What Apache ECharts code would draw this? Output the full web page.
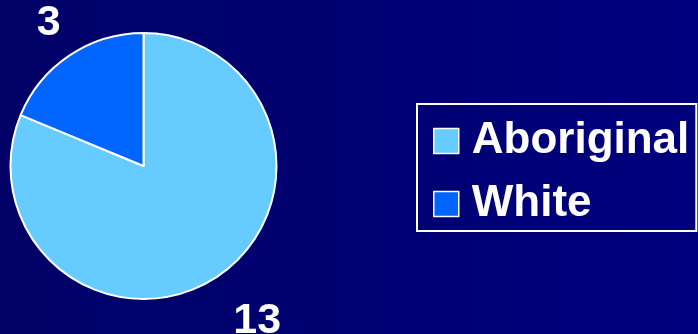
<!DOCTYPE html>
<html>
<head>
<meta charset="utf-8">
<style>
  html, body { margin: 0; padding: 0; }
  #chart { width: 698px; height: 334px; }
</style>
<script src="https://cdn.jsdelivr.net/npm/echarts@6/dist/echarts.min.js"></script>
</head>
<body>
<div id="chart"></div>
<script>
// Counts by group
const categories = ['Aboriginal', 'White'];
const counts = [13, 3];
const colors = ['#66CCFF', '#0066FF'];

const pieData = categories.map((name, i) => ({
  name: name,
  value: counts[i],
  itemStyle: { color: colors[i] }
}));

const FONT = '"Liberation Sans", Arial, sans-serif';
const center = [143.5, 166];

const chart = echarts.init(document.getElementById('chart'));
chart.setOption({
  backgroundColor: {
    type: 'linear', x: 0, y: 0, x2: 1, y2: 0,
    colorStops: [
      { offset: 0, color: '#000066' },
      { offset: 1, color: '#00007E' }
    ]
  },
  animation: false,
  legend: {
    orient: 'vertical',
    left: 417,
    top: 104,
    data: categories,
    icon: 'rect',
    itemWidth: 25,
    itemHeight: 25,
    itemGap: 19,
    padding: [15, 7, 5, 16],
    borderColor: '#FFFFFF',
    borderWidth: 2,
    itemStyle: { borderColor: '#FFFFFF', borderWidth: 1.5 },
    textStyle: {
      color: '#FFFFFF',
      fontFamily: FONT,
      fontWeight: 'bold',
      fontSize: 44,
      lineHeight: 44,
      padding: [0, 0, 0, 8]
    }
  },
  series: [
    {
      // the pie itself
      type: 'pie',
      center: center,
      radius: 133,
      startAngle: 90,
      clockwise: true,
      silent: true,
      label: { show: false },
      labelLine: { show: false },
      itemStyle: { borderColor: '#FFFFFF', borderWidth: 2 },
      data: pieData
    },
    {
      // invisible ring that carries the value labels outside the pie
      type: 'pie',
      center: center,
      radius: [150, 196],
      startAngle: 90,
      clockwise: true,
      silent: true,
      legendHoverLink: false,
      itemStyle: { color: 'rgba(0,0,0,0)' },
      label: {
        show: true,
        position: 'inside',
        formatter: '{c}',
        color: '#FFFFFF',
        fontFamily: FONT,
        fontWeight: 'bold',
        fontSize: 43
      },
      labelLine: { show: false },
      labelLayout: function (params) {
        return params.dataIndex === 0 ? { dx: 16, dy: 9 } : { dx: 3, dy: 3 };
      },
      data: categories.map((name, i) => ({ name: name, value: counts[i] }))
    }
  ]
});
</script>
</body>
</html>
